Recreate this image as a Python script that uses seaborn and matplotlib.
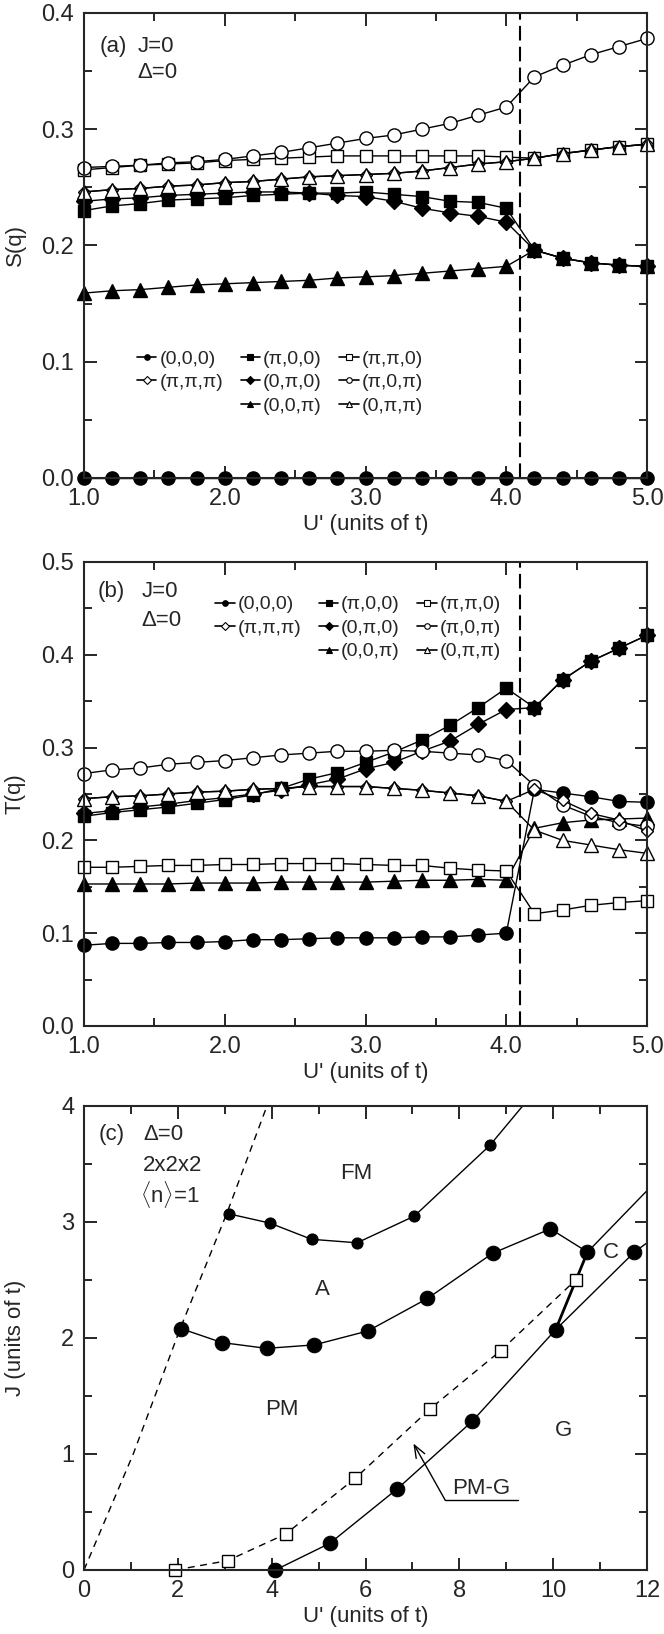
import matplotlib
matplotlib.use("Agg")
import matplotlib.pyplot as plt
from matplotlib.lines import Line2D
from matplotlib.ticker import MultipleLocator, FormatStrFormatter
import pandas as pd
import seaborn as sns

# ---- data -------------------------------------------------------------
u_vals = [1.0, 1.2, 1.4, 1.6, 1.8, 2.0, 2.2, 2.4, 2.6, 2.8, 3.0,
          3.2, 3.4, 3.6, 3.8, 4.0, 4.2, 4.4, 4.6, 4.8, 5.0]
u_transition = 4.1

q_labels = ["(0,0,0)", "(π,π,π)", "(π,0,0)", "(0,π,0)",
            "(0,0,π)", "(π,π,0)", "(π,0,π)", "(0,π,π)"]

# (a) spin structure factor S(q)
s_000 = [0.0] * 21
s_0pp = [0.246, 0.248, 0.249, 0.251, 0.252, 0.254, 0.255, 0.257, 0.259, 0.260, 0.261,
         0.262, 0.264, 0.267, 0.270, 0.272, 0.275, 0.279, 0.282, 0.285, 0.287]
s_ppp = list(s_0pp)
s_p00 = [0.230, 0.234, 0.236, 0.239, 0.240, 0.241, 0.243, 0.244, 0.245, 0.245, 0.246,
         0.244, 0.242, 0.238, 0.237, 0.232, 0.196, 0.189, 0.185, 0.183, 0.182]
s_0p0 = [0.238, 0.240, 0.241, 0.243, 0.244, 0.245, 0.246, 0.246, 0.245, 0.243, 0.242,
         0.238, 0.232, 0.228, 0.225, 0.220, 0.196, 0.189, 0.185, 0.183, 0.182]
s_00p = [0.159, 0.161, 0.162, 0.164, 0.166, 0.167, 0.168, 0.169, 0.170, 0.172, 0.173,
         0.174, 0.176, 0.178, 0.180, 0.182, 0.196, 0.189, 0.185, 0.183, 0.182]
s_pp0 = [0.265, 0.267, 0.269, 0.270, 0.271, 0.273, 0.274, 0.275, 0.276, 0.277, 0.277,
         0.277, 0.277, 0.277, 0.277, 0.276, 0.275, 0.279, 0.282, 0.285, 0.287]
s_p0p = [0.267, 0.268, 0.269, 0.271, 0.272, 0.274, 0.277, 0.280, 0.284, 0.288, 0.292,
         0.295, 0.300, 0.305, 0.312, 0.319, 0.345, 0.355, 0.364, 0.371, 0.378]

# (b) orbital structure factor T(q)
t_000 = [0.087, 0.089, 0.089, 0.090, 0.090, 0.091, 0.093, 0.093, 0.094, 0.095, 0.095,
         0.095, 0.096, 0.096, 0.098, 0.100, 0.255, 0.251, 0.247, 0.242, 0.241]
t_0pp = [0.245, 0.247, 0.248, 0.250, 0.252, 0.253, 0.255, 0.256, 0.258, 0.258, 0.258,
         0.256, 0.254, 0.251, 0.248, 0.242, 0.211, 0.200, 0.195, 0.190, 0.186]
t_ppp = [0.245, 0.247, 0.248, 0.250, 0.252, 0.253, 0.255, 0.256, 0.258, 0.258, 0.258,
         0.256, 0.254, 0.251, 0.248, 0.242, 0.255, 0.243, 0.229, 0.222, 0.210]
t_p00 = [0.226, 0.230, 0.233, 0.236, 0.240, 0.244, 0.249, 0.256, 0.266, 0.273, 0.284,
         0.295, 0.308, 0.324, 0.343, 0.364, 0.343, 0.373, 0.393, 0.407, 0.421]
t_0p0 = [0.229, 0.232, 0.236, 0.239, 0.243, 0.246, 0.250, 0.254, 0.260, 0.266, 0.277,
         0.284, 0.296, 0.307, 0.325, 0.341, 0.343, 0.373, 0.393, 0.407, 0.421]
t_00p = [0.153, 0.153, 0.153, 0.153, 0.154, 0.154, 0.154, 0.155, 0.155, 0.155, 0.155,
         0.156, 0.157, 0.157, 0.158, 0.157, 0.213, 0.219, 0.222, 0.223, 0.224]
t_pp0 = [0.171, 0.171, 0.172, 0.173, 0.173, 0.174, 0.174, 0.175, 0.175, 0.175, 0.174,
         0.173, 0.173, 0.170, 0.168, 0.167, 0.121, 0.125, 0.130, 0.133, 0.135]
t_p0p = [0.272, 0.276, 0.278, 0.282, 0.284, 0.286, 0.289, 0.292, 0.294, 0.296, 0.296,
         0.297, 0.296, 0.294, 0.292, 0.286, 0.259, 0.238, 0.226, 0.219, 0.215]

# (c) phase diagram, J vs U'
jd_u = [0.0, 1.05, 2.05, 3.05, 3.9]          # dashed PM/FM boundary
jd_j = [0.0, 1.0, 2.08, 3.08, 4.0]
fm_u = [3.08, 3.96, 4.85, 5.82, 7.04, 8.65, 9.35]   # FM/A, last point = edge
fm_j = [3.07, 2.99, 2.85, 2.82, 3.05, 3.66, 4.0]
a_u = [2.07, 2.94, 3.89, 4.91, 6.05, 7.32, 8.71, 9.94, 10.73, 12.0]
a_j = [2.08, 1.96, 1.91, 1.94, 2.06, 2.34, 2.73, 2.94, 2.74, 3.27]
g_u = [4.08, 5.24, 6.68, 8.27, 10.05, 11.73, 12.0]
g_j = [0.0, 0.23, 0.70, 1.28, 2.07, 2.74, 2.82]
c_u = [10.05, 10.73]
c_j = [2.07, 2.74]
pmg_u = [1.95, 3.06, 4.30, 5.78, 7.38, 8.88, 10.48]
pmg_j = [0.0, 0.08, 0.31, 0.79, 1.39, 1.89, 2.50]

# ---- style ------------------------------------------------------------
sns.set_style("ticks")
plt.rcParams["font.family"] = ["Liberation Sans", "DejaVu Sans"]
plt.rcParams["mathtext.fontset"] = "custom"
plt.rcParams["mathtext.rm"] = "Liberation Sans"
FS = 17

markers = {
    "(0,0,0)": ("o", "k", 9.5),
    "(π,π,π)": ("D", "w", 6.5),
    "(π,0,0)": ("s", "k", 8.5),
    "(0,π,0)": ("D", "k", 8.0),
    "(0,0,π)": ("^", "k", 10),
    "(π,π,0)": ("s", "w", 8.5),
    "(π,0,π)": ("o", "w", 9.5),
    "(0,π,π)": ("^", "w", 10),
}
draw_order = ["(0,0,0)", "(π,0,0)", "(0,π,0)", "(0,0,π)",
              "(π,π,0)", "(π,0,π)", "(π,π,π)", "(0,π,π)"]


def long_table(series):
    rows = []
    for q, vals in zip(q_labels, series):
        for u, v in zip(u_vals, vals):
            rows.append({"U": u, "val": v, "q": q})
    return pd.DataFrame(rows)


def style_axes(ax, xmaj, xmin, ymaj, ymin, xfmt, yfmt):
    ax.xaxis.set_major_locator(MultipleLocator(xmaj))
    ax.xaxis.set_minor_locator(MultipleLocator(xmin))
    ax.yaxis.set_major_locator(MultipleLocator(ymaj))
    ax.yaxis.set_minor_locator(MultipleLocator(ymin))
    ax.xaxis.set_major_formatter(FormatStrFormatter(xfmt))
    ax.yaxis.set_major_formatter(FormatStrFormatter(yfmt))
    ax.tick_params(which="both", direction="in", top=True, right=True,
                   width=1.4, labelsize=FS)
    ax.tick_params(which="major", length=9, pad=7)
    ax.tick_params(which="minor", length=5.5)
    for sp in ax.spines.values():
        sp.set_linewidth(1.5)
    ax.xaxis.set_label_coords(0.5, -0.078)
    ax.yaxis.set_label_coords(-0.103, 0.5)


def draw_q_panel(ax, df):
    for q in draw_order:
        m, fc, ms = markers[q]
        sns.lineplot(data=df[df["q"] == q], x="U", y="val", ax=ax, color="k",
                     lw=1.0, marker=m, markersize=ms, markerfacecolor=fc,
                     markeredgecolor="k", markeredgewidth=1.0, estimator=None,
                     sort=False, legend=False, clip_on=False)
    ax.axvline(u_transition, color="k", lw=1.5, ls=(0, (7, 3)))
    ax.set_xlim(1.0, 5.0)


def q_legend(ax, anchor):
    hs = {}
    for q in q_labels:
        m, fc, _ = markers[q]
        hs[q] = Line2D([0], [0], color="k", lw=1.2, marker=m, ms=4,
                       mfc=fc, mec="k", mew=0.8)
    blank = Line2D([0], [0], color="none")
    order = ["(0,0,0)", "(π,π,π)", None, "(π,0,0)", "(0,π,0)", "(0,0,π)",
             "(π,π,0)", "(π,0,π)", "(0,π,π)"]
    handles = [hs[q] if q else blank for q in order]
    labels = [q if q else "" for q in order]
    ax.legend(handles, labels, ncol=3, loc="upper left", bbox_to_anchor=anchor,
              frameon=False, fontsize=14, handlelength=1.0, handletextpad=0.15,
              columnspacing=0.9, labelspacing=0.3, borderpad=0, borderaxespad=0)


fig = plt.figure(figsize=(6.64, 16.34), dpi=100)
ax_a = fig.add_axes([0.1265, 0.7075, 0.848, 0.2846])
ax_b = fig.add_axes([0.1265, 0.3721, 0.848, 0.2840])
ax_c = fig.add_axes([0.1265, 0.0392, 0.848, 0.2840])

# ---- (a) --------------------------------------------------------------
df_s = long_table([s_000, s_ppp, s_p00, s_0p0, s_00p, s_pp0, s_p0p, s_0pp])
draw_q_panel(ax_a, df_s)
ax_a.set_ylim(0.0, 0.4)
style_axes(ax_a, 1.0, 0.5, 0.1, 0.05, "%.1f", "%.1f")
ax_a.set_xlabel("U' (units of t)", fontsize=FS - 1)
ax_a.set_ylabel("S(q)", fontsize=FS - 1)
ax_a.text(1.11, 0.371, "(a)", fontsize=FS - 1, va="center")
ax_a.text(1.38, 0.371, "J=0", fontsize=FS - 1, va="center")
ax_a.text(1.38, 0.349, "Δ=0", fontsize=FS - 1, va="center")
q_legend(ax_a, (0.094, 0.275))

# ---- (b) --------------------------------------------------------------
df_t = long_table([t_000, t_ppp, t_p00, t_0p0, t_00p, t_pp0, t_p0p, t_0pp])
draw_q_panel(ax_b, df_t)
ax_b.set_ylim(0.0, 0.5)
style_axes(ax_b, 1.0, 0.5, 0.1, 0.05, "%.1f", "%.1f")
ax_b.set_xlabel("U' (units of t)", fontsize=FS - 1)
ax_b.set_ylabel("T(q)", fontsize=FS - 1)
ax_b.text(1.10, 0.468, "(b)", fontsize=FS - 1, va="center")
ax_b.text(1.41, 0.468, "J=0", fontsize=FS - 1, va="center")
ax_b.text(1.41, 0.437, "Δ=0", fontsize=FS - 1, va="center")
q_legend(ax_b, (0.233, 0.927))

# ---- (c) --------------------------------------------------------------
line_kw = dict(ax=ax_c, color="k", estimator=None, sort=False, legend=False,
               clip_on=False)
sns.lineplot(x=jd_u, y=jd_j, lw=1.0, linestyle=(0, (5, 4)), **line_kw)
sns.lineplot(x=fm_u, y=fm_j, lw=1.0, marker="o", markersize=8,
             markerfacecolor="k", markeredgecolor="k", markevery=slice(0, 6),
             **line_kw)
sns.lineplot(x=a_u, y=a_j, lw=1.0, marker="o", markersize=10.5,
             markerfacecolor="k", markeredgecolor="k", markevery=slice(0, 9),
             **line_kw)
sns.lineplot(x=g_u, y=g_j, lw=1.0, marker="o", markersize=10.5,
             markerfacecolor="k", markeredgecolor="k", markevery=slice(0, 6),
             **line_kw)
sns.lineplot(x=c_u, y=c_j, lw=2.0, **line_kw)
sns.lineplot(x=pmg_u, y=pmg_j, lw=1.0, linestyle=(0, (5, 4)), marker="s",
             markersize=8.5, markerfacecolor="w", markeredgecolor="k",
             markeredgewidth=1.0, **line_kw)
ax_c.set_xlim(0, 12)
ax_c.set_ylim(0, 4)
style_axes(ax_c, 2, 1, 1, 0.5, "%d", "%d")
ax_c.set_xlabel("U' (units of t)", fontsize=FS - 1)
ax_c.set_ylabel("J (units of t)", fontsize=FS - 1)
ax_c.text(0.32, 3.75, "(c)", fontsize=FS - 1, va="center")
ax_c.text(1.26, 3.75, "Δ=0", fontsize=FS - 1, va="center")
ax_c.text(1.26, 3.49, "2x2x2", fontsize=FS - 1, va="center")
ax_c.text(1.20, 3.24, r"$\langle$n$\rangle$=1", fontsize=FS - 1, va="center")
for txt, x, y in [("FM", 5.8, 3.42), ("A", 5.07, 2.42), ("PM", 4.21, 1.38),
                  ("G", 10.22, 1.20), ("C", 11.23, 2.74)]:
    ax_c.text(x, y, txt, fontsize=FS - 1, ha="center", va="center")
ax_c.text(8.47, 0.70, "PM-G", fontsize=FS - 1, ha="center", va="center")
ax_c.plot([7.70, 9.26], [0.60, 0.60], color="k", lw=1.0)
ax_c.annotate("", xy=(7.02, 1.09), xytext=(7.70, 0.60),
              arrowprops=dict(arrowstyle="->,head_length=0.9,head_width=0.35",
                              color="k", lw=1.0, shrinkA=0, shrinkB=0))

fig.savefig("out.png", dpi=100)
